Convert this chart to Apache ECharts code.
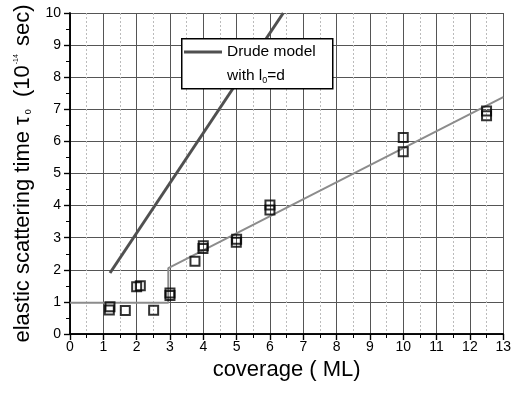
<!DOCTYPE html>
<html>
<head>
<meta charset="utf-8">
<script src="https://cdn.jsdelivr.net/npm/echarts@6/dist/echarts.min.js"></script>
<style>
  html, body { margin: 0; padding: 0; background: #fff; }
  #chart { width: 514px; height: 393px; }
</style>
</head>
<body>
<div id="chart"></div>
<script>
// Measured scattering times (coverage in ML, tau in 1e-14 s)
const coverage = [1.18, 1.2, 1.66, 2.0, 2.11, 2.51, 3.0, 3.0, 3.75, 3.99, 4.0, 4.99, 5.0, 6.0, 6.0, 10.0, 10.0, 12.5, 12.5];
const tau      = [0.75, 0.85, 0.73, 1.47, 1.5, 0.74, 1.2, 1.28, 2.27, 2.66, 2.75, 2.86, 2.95, 3.86, 4.02, 5.68, 6.12, 6.8, 6.95];

// Drude model with l0 = d
const drudeX = [1.2, 6.4];
const drudeY = [1.9, 10.0];

// Piecewise fit: flat part, step, then linear rise
const fitX = [0, 2.95, 2.95, 13.0];
const fitY = [0.97, 0.97, 2.05, 7.38];

const xTicks = { min: 0, max: 13, interval: 1 };
const yTicks = { min: 0, max: 10, interval: 1 };

const FONT = '"Liberation Sans", Arial, sans-serif';

const zip = (xs, ys) => xs.map((x, i) => [x, ys[i]]);

const chart = echarts.init(document.getElementById('chart'), null, { renderer: 'canvas' });

const axisLine = { show: true, lineStyle: { color: '#000', width: 1.5 } };

chart.setOption({
  animation: false,
  backgroundColor: '#fff',
  grid: { left: 70, right: 7, top: 13, bottom: 59, containLabel: false },
  xAxis: [
    {
      type: 'value', position: 'bottom',
      min: xTicks.min, max: xTicks.max, interval: xTicks.interval,
      name: 'coverage ( ML)', nameLocation: 'middle', nameGap: 25,
      nameTextStyle: { fontFamily: FONT, fontSize: 22, color: '#000' },
      axisLine: axisLine,
      axisTick: { show: true, inside: false, length: 6, lineStyle: { color: '#000', width: 1.2 } },
      minorTick: { show: true, splitNumber: 2, length: 4, lineStyle: { color: '#000', width: 1 } },
      axisLabel: { margin: 6, fontFamily: FONT, fontSize: 14, color: '#000' },
      splitLine: { show: true, lineStyle: { color: '#555', width: 1 } },
      minorSplitLine: { show: true, lineStyle: { color: '#bbb', width: 1, type: [2, 2] } }
    },
    {
      type: 'value', position: 'top',
      min: xTicks.min, max: xTicks.max, interval: xTicks.interval,
      axisLine: axisLine,
      axisTick: { show: true, inside: true, length: 6, lineStyle: { color: '#000', width: 1.2 } },
      minorTick: { show: true, splitNumber: 2, length: 4, lineStyle: { color: '#000', width: 1 } },
      axisLabel: { show: false },
      splitLine: { show: false }
    }
  ],
  yAxis: [
    {
      type: 'value', position: 'left',
      min: yTicks.min, max: yTicks.max, interval: yTicks.interval,
      name: 'elastic scattering time τ{sub|0}  (10{sup|-14} sec)',
      nameLocation: 'middle', nameRotate: 90, nameGap: 36,
      nameTextStyle: {
        fontFamily: FONT, fontSize: 22, color: '#000',
        rich: {
          sub: { fontFamily: FONT, fontSize: 9, color: '#000', padding: [12, 0, 0, 2] },
          sup: { fontFamily: FONT, fontSize: 7, color: '#000', padding: [0, 2, 14, 1] }
        }
      },
      axisLine: axisLine,
      axisTick: { show: true, inside: false, length: 6, lineStyle: { color: '#000', width: 1.2 } },
      minorTick: { show: true, splitNumber: 2, length: 4, lineStyle: { color: '#000', width: 1 } },
      axisLabel: { margin: 9, fontFamily: FONT, fontSize: 14, color: '#000' },
      splitLine: { show: true, lineStyle: { color: '#555', width: 1 } }
    },
    {
      type: 'value', position: 'right',
      min: yTicks.min, max: yTicks.max, interval: yTicks.interval,
      axisLine: axisLine,
      axisTick: { show: true, inside: true, length: 6, lineStyle: { color: '#000', width: 1.2 } },
      minorTick: { show: true, splitNumber: 2, length: 4, lineStyle: { color: '#000', width: 1 } },
      axisLabel: { show: false },
      splitLine: { show: false }
    }
  ],
  graphic: [
    { type: 'rect', left: 181, top: 38, z: 100, zlevel: 1,
      shape: { x: 0, y: 0, width: 151, height: 50 },
      style: { fill: '#fff', stroke: '#000', lineWidth: 1.5 } },
    { type: 'line', z: 101, zlevel: 1,
      shape: { x1: 184, y1: 52, x2: 222, y2: 52 },
      style: { stroke: '#505050', lineWidth: 3 } },
    { type: 'text', x: 227, y: 52, z: 101, zlevel: 1,
      style: { text: 'Drude model', fontFamily: FONT, fontSize: 15.5, fill: '#000', verticalAlign: 'middle' } },
    { type: 'text', x: 227, y: 76, z: 101, zlevel: 1,
      style: {
        text: 'with l{sub|0}=d', fontFamily: FONT, fontSize: 15.5, fill: '#000', verticalAlign: 'middle',
        rich: { sub: { fontFamily: FONT, fontSize: 9, fill: '#000', padding: [9, 0, 0, 0] } }
      } }
  ],
  series: [
    {
      name: 'fit', type: 'line', xAxisIndex: 0, yAxisIndex: 0,
      data: zip(fitX, fitY), showSymbol: false, symbol: 'none',
      lineStyle: { color: '#8c8c8c', width: 2 }, z: 3
    },
    {
      name: 'Drude model', type: 'line', xAxisIndex: 0, yAxisIndex: 0,
      data: zip(drudeX, drudeY), showSymbol: false, symbol: 'none', clip: true,
      lineStyle: { color: '#505050', width: 3 }, z: 3
    },
    {
      name: 'data', type: 'scatter', xAxisIndex: 0, yAxisIndex: 0,
      data: zip(coverage, tau), symbol: 'rect', symbolSize: 9,
      itemStyle: { color: 'rgba(0,0,0,0)', borderColor: '#000', borderWidth: 2 }, z: 5
    }
  ]
});
</script>
</body>
</html>
